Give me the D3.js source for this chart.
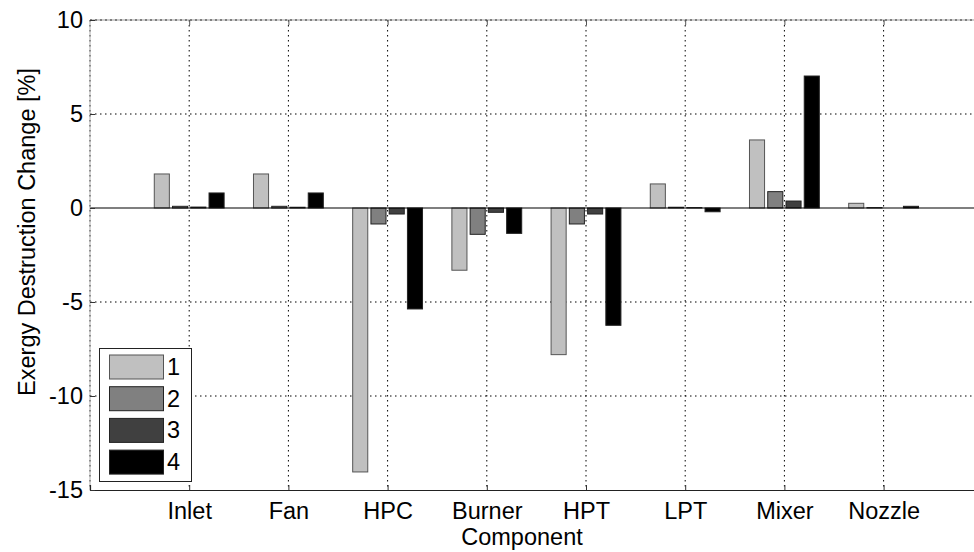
<!DOCTYPE html>
<html><head><meta charset="utf-8">
<script src="https://cdn.jsdelivr.net/npm/d3@7"></script>
<style>body{margin:0;background:#fff}svg{display:block}text{font-family:"Liberation Sans",Arial,sans-serif;fill:#000}</style>
</head><body>
<svg id="c" width="974" height="552"></svg>
<script>
const categories = ["Inlet","Fan","HPC","Burner","HPT","LPT","Mixer","Nozzle"];
const seriesNames = ["1","2","3","4"];
const series1 = [1.81, 1.81, -14.04, -3.31, -7.80, 1.28, 3.62, 0.25];
const series2 = [0.09, 0.09, -0.85, -1.40, -0.85, 0.04, 0.87, 0.02];
const series3 = [0.05, 0.04, -0.32, -0.23, -0.32, 0.02, 0.37, 0.00];
const series4 = [0.80, 0.80, -5.37, -1.35, -6.24, -0.20, 7.02, 0.09];
const yTicks = [-15, -10, -5, 0, 5, 10];
const colors = ["#c0c0c0", "#808080", "#404040", "#000000"];
const xLabel = "Component";
const yLabel = "Exergy Destruction Change [%]";

const allSeries = [series1, series2, series3, series4];
const svg = d3.select("#c");
const L = 90, T = 20, B = 490;
const x = d3.scaleLinear().domain([0, 9]).range([L, L + 9 * 99.2]);
const y = d3.scaleLinear().domain([-15, 10]).range([B, T]);
const R = x(9);
const fs = 23.5;

// grid
const g = svg.append("g");
g.selectAll(".hg").data(yTicks.filter(v => v !== 10 && v !== -15 && v !== 0)).enter().append("line")
  .attr("x1", L).attr("x2", R).attr("y1", d => y(d)).attr("y2", d => y(d))
  .attr("stroke", "#000").attr("stroke-width", 1).attr("stroke-dasharray", "1.5,3.5");
g.selectAll(".vg").data(d3.range(1, 9)).enter().append("line")
  .attr("x1", d => x(d)).attr("x2", d => x(d)).attr("y1", T).attr("y2", B)
  .attr("stroke", "#000").attr("stroke-width", 1).attr("stroke-dasharray", "1.5,3.5");

// bars
const offsets = [-0.276, -0.092, 0.092, 0.276];
const bw = 0.152;
allSeries.forEach((s, si) => {
  svg.append("g").selectAll("rect").data(s).enter().append("rect")
    .attr("x", (d, i) => x(i + 1 + offsets[si] - bw / 2))
    .attr("width", x(bw) - x(0))
    .attr("y", d => y(Math.max(0, d)))
    .attr("height", d => Math.abs(y(d) - y(0)))
    .attr("fill", colors[si])
    .attr("stroke", si === 0 ? "#555" : "#222").attr("stroke-width", 1);
});

// zero baseline
svg.append("line").attr("x1", L).attr("x2", R).attr("y1", y(0)).attr("y2", y(0))
  .attr("stroke", "#000").attr("stroke-width", 1.2);

// axes box
svg.append("line").attr("x1", L).attr("x2", R).attr("y1", T).attr("y2", T).attr("stroke", "#999").attr("stroke-width", 1);
svg.append("line").attr("x1", L).attr("x2", R).attr("y1", T).attr("y2", T).attr("stroke", "#333").attr("stroke-width", 1).attr("stroke-dasharray", "2,3");
svg.append("line").attr("x1", L).attr("x2", L).attr("y1", T).attr("y2", B).attr("stroke", "#aaa").attr("stroke-width", 1);
svg.append("line").attr("x1", L).attr("x2", L).attr("y1", T).attr("y2", B).attr("stroke", "#444").attr("stroke-width", 1).attr("stroke-dasharray", "1.5,3.5");

const xAxis = d3.axisBottom(x).tickValues(d3.range(1, 9)).tickSize(-5).tickPadding(12)
  .tickFormat(d => categories[d - 1]);
const xa = svg.append("g").attr("transform", `translate(0,${B})`).call(xAxis);
xa.select(".domain").attr("stroke", "#222").attr("stroke-width", 1.2);
xa.selectAll(".tick line").attr("stroke", "#333");
xa.selectAll("text").attr("font-size", fs).attr("font-family", "Liberation Sans, Arial, sans-serif").attr("fill", "#000");
const xTop = d3.axisTop(x).tickValues(d3.range(1, 9)).tickSize(-5).tickFormat("");
const xt = svg.append("g").attr("transform", `translate(0,${T})`).call(xTop);
xt.select(".domain").remove();
xt.selectAll(".tick line").attr("stroke", "#555");

const yAxis = d3.axisLeft(y).tickValues(yTicks).tickSize(-5).tickPadding(7)
  .tickFormat(d => String(d));
const ya = svg.append("g").attr("transform", `translate(${L},0)`).call(yAxis);
ya.select(".domain").remove();
ya.selectAll(".tick line").attr("stroke", "#333");
ya.selectAll("text").attr("font-size", fs).attr("font-family", "Liberation Sans, Arial, sans-serif").attr("fill", "#000");

// labels
svg.append("text").attr("x", 522).attr("y", 545).attr("text-anchor", "middle").attr("font-size", fs).text(xLabel);
svg.append("text").attr("transform", `translate(35,232) rotate(-90)`).attr("text-anchor", "middle").attr("font-size", fs).text(yLabel);

// legend
const lg = svg.append("g");
lg.append("rect").attr("x", 99.5).attr("y", 348.5).attr("width", 92).attr("height", 133)
  .attr("fill", "#fff").attr("stroke", "#222").attr("stroke-width", 1);
seriesNames.forEach((n, i) => {
  const yy = 355 + i * 31.7;
  lg.append("rect").attr("x", 109.5).attr("y", yy).attr("width", 54).attr("height", 24)
    .attr("fill", colors[i]).attr("stroke", i === 0 ? "#555" : "#222").attr("stroke-width", 1);
  lg.append("text").attr("x", 167).attr("y", yy + 20).attr("font-size", fs).text(n);
});
</script>
</body></html>
